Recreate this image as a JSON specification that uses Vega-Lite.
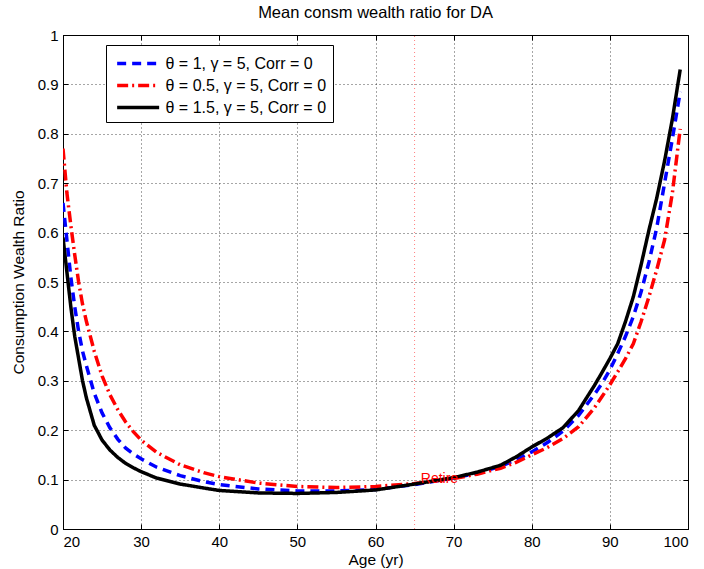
{
  "$schema": "https://vega.github.io/schema/vega-lite/v6.json",
  "width": 625,
  "height": 494,
  "autosize": {"type": "none"},
  "padding": {"left": 63, "top": 35, "right": 16, "bottom": 40},
  "background": "white",
  "config": {
    "font": "Liberation Sans",
    "view": {"stroke": "black", "strokeWidth": 1},
    "axis": {
      "domainColor": "black",
      "tickColor": "black",
      "labelColor": "black",
      "titleColor": "black",
      "labelFont": "Liberation Sans",
      "titleFont": "Liberation Sans",
      "labelFontSize": 15,
      "titleFontSize": 15.5,
      "titleFontWeight": "normal",
      "gridColor": "black",
      "gridOpacity": 0.7,
      "gridDash": [1, 3],
      "gridWidth": 1,
      "tickSize": -5,
      "tickWidth": 1
    }
  },
  "title": {
    "text": "Mean consm wealth ratio for DA",
    "font": "Liberation Sans",
    "fontSize": 16.5,
    "fontWeight": "normal",
    "color": "black",
    "anchor": "middle",
    "frame": "group",
    "baseline": "alphabetic",
    "offset": 15,
    "dy": 21
  },
  "datasets": {
    "curves": [
      {"s": "θ = 1, γ = 5, Corr = 0", "age": 20, "r": 0.66},
      {"s": "θ = 1, γ = 5, Corr = 0", "age": 20.5, "r": 0.585},
      {"s": "θ = 1, γ = 5, Corr = 0", "age": 21, "r": 0.51},
      {"s": "θ = 1, γ = 5, Corr = 0", "age": 21.5, "r": 0.45},
      {"s": "θ = 1, γ = 5, Corr = 0", "age": 22, "r": 0.4},
      {"s": "θ = 1, γ = 5, Corr = 0", "age": 22.5, "r": 0.36},
      {"s": "θ = 1, γ = 5, Corr = 0", "age": 23, "r": 0.33},
      {"s": "θ = 1, γ = 5, Corr = 0", "age": 24, "r": 0.275},
      {"s": "θ = 1, γ = 5, Corr = 0", "age": 25, "r": 0.235},
      {"s": "θ = 1, γ = 5, Corr = 0", "age": 26, "r": 0.205},
      {"s": "θ = 1, γ = 5, Corr = 0", "age": 27, "r": 0.182},
      {"s": "θ = 1, γ = 5, Corr = 0", "age": 28, "r": 0.164},
      {"s": "θ = 1, γ = 5, Corr = 0", "age": 29, "r": 0.152},
      {"s": "θ = 1, γ = 5, Corr = 0", "age": 30, "r": 0.142},
      {"s": "θ = 1, γ = 5, Corr = 0", "age": 32, "r": 0.125},
      {"s": "θ = 1, γ = 5, Corr = 0", "age": 35, "r": 0.108},
      {"s": "θ = 1, γ = 5, Corr = 0", "age": 38, "r": 0.096},
      {"s": "θ = 1, γ = 5, Corr = 0", "age": 40, "r": 0.09},
      {"s": "θ = 1, γ = 5, Corr = 0", "age": 45, "r": 0.081},
      {"s": "θ = 1, γ = 5, Corr = 0", "age": 50, "r": 0.077},
      {"s": "θ = 1, γ = 5, Corr = 0", "age": 55, "r": 0.077},
      {"s": "θ = 1, γ = 5, Corr = 0", "age": 60, "r": 0.08},
      {"s": "θ = 1, γ = 5, Corr = 0", "age": 65, "r": 0.09},
      {"s": "θ = 1, γ = 5, Corr = 0", "age": 70, "r": 0.103},
      {"s": "θ = 1, γ = 5, Corr = 0", "age": 73, "r": 0.113},
      {"s": "θ = 1, γ = 5, Corr = 0", "age": 76, "r": 0.127},
      {"s": "θ = 1, γ = 5, Corr = 0", "age": 78, "r": 0.14},
      {"s": "θ = 1, γ = 5, Corr = 0", "age": 80, "r": 0.156},
      {"s": "θ = 1, γ = 5, Corr = 0", "age": 82, "r": 0.175},
      {"s": "θ = 1, γ = 5, Corr = 0", "age": 84, "r": 0.198},
      {"s": "θ = 1, γ = 5, Corr = 0", "age": 86, "r": 0.23},
      {"s": "θ = 1, γ = 5, Corr = 0", "age": 88, "r": 0.272},
      {"s": "θ = 1, γ = 5, Corr = 0", "age": 89, "r": 0.295},
      {"s": "θ = 1, γ = 5, Corr = 0", "age": 90, "r": 0.322},
      {"s": "θ = 1, γ = 5, Corr = 0", "age": 91, "r": 0.355},
      {"s": "θ = 1, γ = 5, Corr = 0", "age": 92, "r": 0.39},
      {"s": "θ = 1, γ = 5, Corr = 0", "age": 93, "r": 0.43},
      {"s": "θ = 1, γ = 5, Corr = 0", "age": 94, "r": 0.48},
      {"s": "θ = 1, γ = 5, Corr = 0", "age": 95, "r": 0.54},
      {"s": "θ = 1, γ = 5, Corr = 0", "age": 96, "r": 0.61},
      {"s": "θ = 1, γ = 5, Corr = 0", "age": 97, "r": 0.7},
      {"s": "θ = 1, γ = 5, Corr = 0", "age": 98, "r": 0.79},
      {"s": "θ = 1, γ = 5, Corr = 0", "age": 99, "r": 0.885},

      {"s": "θ = 0.5, γ = 5, Corr = 0", "age": 20, "r": 0.77},
      {"s": "θ = 0.5, γ = 5, Corr = 0", "age": 20.5, "r": 0.68},
      {"s": "θ = 0.5, γ = 5, Corr = 0", "age": 21, "r": 0.615},
      {"s": "θ = 0.5, γ = 5, Corr = 0", "age": 21.5, "r": 0.555},
      {"s": "θ = 0.5, γ = 5, Corr = 0", "age": 22, "r": 0.5},
      {"s": "θ = 0.5, γ = 5, Corr = 0", "age": 22.5, "r": 0.455},
      {"s": "θ = 0.5, γ = 5, Corr = 0", "age": 23, "r": 0.42},
      {"s": "θ = 0.5, γ = 5, Corr = 0", "age": 24, "r": 0.36},
      {"s": "θ = 0.5, γ = 5, Corr = 0", "age": 25, "r": 0.31},
      {"s": "θ = 0.5, γ = 5, Corr = 0", "age": 26, "r": 0.272},
      {"s": "θ = 0.5, γ = 5, Corr = 0", "age": 27, "r": 0.242},
      {"s": "θ = 0.5, γ = 5, Corr = 0", "age": 28, "r": 0.217},
      {"s": "θ = 0.5, γ = 5, Corr = 0", "age": 29, "r": 0.197},
      {"s": "θ = 0.5, γ = 5, Corr = 0", "age": 30, "r": 0.18},
      {"s": "θ = 0.5, γ = 5, Corr = 0", "age": 32, "r": 0.155},
      {"s": "θ = 0.5, γ = 5, Corr = 0", "age": 35, "r": 0.13},
      {"s": "θ = 0.5, γ = 5, Corr = 0", "age": 38, "r": 0.114},
      {"s": "θ = 0.5, γ = 5, Corr = 0", "age": 40, "r": 0.106},
      {"s": "θ = 0.5, γ = 5, Corr = 0", "age": 45, "r": 0.093},
      {"s": "θ = 0.5, γ = 5, Corr = 0", "age": 50, "r": 0.086},
      {"s": "θ = 0.5, γ = 5, Corr = 0", "age": 55, "r": 0.084},
      {"s": "θ = 0.5, γ = 5, Corr = 0", "age": 60, "r": 0.086},
      {"s": "θ = 0.5, γ = 5, Corr = 0", "age": 65, "r": 0.092},
      {"s": "θ = 0.5, γ = 5, Corr = 0", "age": 70, "r": 0.102},
      {"s": "θ = 0.5, γ = 5, Corr = 0", "age": 73, "r": 0.111},
      {"s": "θ = 0.5, γ = 5, Corr = 0", "age": 76, "r": 0.123},
      {"s": "θ = 0.5, γ = 5, Corr = 0", "age": 78, "r": 0.135},
      {"s": "θ = 0.5, γ = 5, Corr = 0", "age": 80, "r": 0.15},
      {"s": "θ = 0.5, γ = 5, Corr = 0", "age": 82, "r": 0.165},
      {"s": "θ = 0.5, γ = 5, Corr = 0", "age": 84, "r": 0.183},
      {"s": "θ = 0.5, γ = 5, Corr = 0", "age": 86, "r": 0.207},
      {"s": "θ = 0.5, γ = 5, Corr = 0", "age": 88, "r": 0.245},
      {"s": "θ = 0.5, γ = 5, Corr = 0", "age": 89, "r": 0.268},
      {"s": "θ = 0.5, γ = 5, Corr = 0", "age": 90, "r": 0.292},
      {"s": "θ = 0.5, γ = 5, Corr = 0", "age": 91, "r": 0.318},
      {"s": "θ = 0.5, γ = 5, Corr = 0", "age": 92, "r": 0.345},
      {"s": "θ = 0.5, γ = 5, Corr = 0", "age": 93, "r": 0.375},
      {"s": "θ = 0.5, γ = 5, Corr = 0", "age": 94, "r": 0.42},
      {"s": "θ = 0.5, γ = 5, Corr = 0", "age": 95, "r": 0.47},
      {"s": "θ = 0.5, γ = 5, Corr = 0", "age": 96, "r": 0.525},
      {"s": "θ = 0.5, γ = 5, Corr = 0", "age": 97, "r": 0.585},
      {"s": "θ = 0.5, γ = 5, Corr = 0", "age": 98, "r": 0.68},
      {"s": "θ = 0.5, γ = 5, Corr = 0", "age": 99, "r": 0.81},

      {"s": "θ = 1.5, γ = 5, Corr = 0", "age": 20, "r": 0.59},
      {"s": "θ = 1.5, γ = 5, Corr = 0", "age": 20.5, "r": 0.52},
      {"s": "θ = 1.5, γ = 5, Corr = 0", "age": 21, "r": 0.45},
      {"s": "θ = 1.5, γ = 5, Corr = 0", "age": 21.5, "r": 0.39},
      {"s": "θ = 1.5, γ = 5, Corr = 0", "age": 22, "r": 0.345},
      {"s": "θ = 1.5, γ = 5, Corr = 0", "age": 22.5, "r": 0.3},
      {"s": "θ = 1.5, γ = 5, Corr = 0", "age": 23, "r": 0.265},
      {"s": "θ = 1.5, γ = 5, Corr = 0", "age": 24, "r": 0.21},
      {"s": "θ = 1.5, γ = 5, Corr = 0", "age": 25, "r": 0.18},
      {"s": "θ = 1.5, γ = 5, Corr = 0", "age": 26, "r": 0.16},
      {"s": "θ = 1.5, γ = 5, Corr = 0", "age": 27, "r": 0.145},
      {"s": "θ = 1.5, γ = 5, Corr = 0", "age": 28, "r": 0.133},
      {"s": "θ = 1.5, γ = 5, Corr = 0", "age": 29, "r": 0.124},
      {"s": "θ = 1.5, γ = 5, Corr = 0", "age": 30, "r": 0.116},
      {"s": "θ = 1.5, γ = 5, Corr = 0", "age": 32, "r": 0.103},
      {"s": "θ = 1.5, γ = 5, Corr = 0", "age": 35, "r": 0.091},
      {"s": "θ = 1.5, γ = 5, Corr = 0", "age": 38, "r": 0.083},
      {"s": "θ = 1.5, γ = 5, Corr = 0", "age": 40, "r": 0.078},
      {"s": "θ = 1.5, γ = 5, Corr = 0", "age": 45, "r": 0.073},
      {"s": "θ = 1.5, γ = 5, Corr = 0", "age": 50, "r": 0.072},
      {"s": "θ = 1.5, γ = 5, Corr = 0", "age": 55, "r": 0.074},
      {"s": "θ = 1.5, γ = 5, Corr = 0", "age": 60, "r": 0.079},
      {"s": "θ = 1.5, γ = 5, Corr = 0", "age": 65, "r": 0.091},
      {"s": "θ = 1.5, γ = 5, Corr = 0", "age": 70, "r": 0.104},
      {"s": "θ = 1.5, γ = 5, Corr = 0", "age": 73, "r": 0.115},
      {"s": "θ = 1.5, γ = 5, Corr = 0", "age": 76, "r": 0.129},
      {"s": "θ = 1.5, γ = 5, Corr = 0", "age": 78, "r": 0.146},
      {"s": "θ = 1.5, γ = 5, Corr = 0", "age": 80, "r": 0.166},
      {"s": "θ = 1.5, γ = 5, Corr = 0", "age": 82, "r": 0.184},
      {"s": "θ = 1.5, γ = 5, Corr = 0", "age": 84, "r": 0.205},
      {"s": "θ = 1.5, γ = 5, Corr = 0", "age": 86, "r": 0.24},
      {"s": "θ = 1.5, γ = 5, Corr = 0", "age": 88, "r": 0.29},
      {"s": "θ = 1.5, γ = 5, Corr = 0", "age": 89, "r": 0.317},
      {"s": "θ = 1.5, γ = 5, Corr = 0", "age": 90, "r": 0.345},
      {"s": "θ = 1.5, γ = 5, Corr = 0", "age": 91, "r": 0.375},
      {"s": "θ = 1.5, γ = 5, Corr = 0", "age": 92, "r": 0.42},
      {"s": "θ = 1.5, γ = 5, Corr = 0", "age": 93, "r": 0.47},
      {"s": "θ = 1.5, γ = 5, Corr = 0", "age": 94, "r": 0.535},
      {"s": "θ = 1.5, γ = 5, Corr = 0", "age": 95, "r": 0.605},
      {"s": "θ = 1.5, γ = 5, Corr = 0", "age": 96, "r": 0.67},
      {"s": "θ = 1.5, γ = 5, Corr = 0", "age": 97, "r": 0.745},
      {"s": "θ = 1.5, γ = 5, Corr = 0", "age": 98, "r": 0.83},
      {"s": "θ = 1.5, γ = 5, Corr = 0", "age": 99, "r": 0.93}
    ],
    "retire": [{"age": 65.8, "r": 0.101, "label": "Retire"}],
    "retireline": [{"age": 65}]
  },
  "layer": [
    {
      "data": {"name": "retireline"},
      "mark": {"type": "rule", "color": "#ff0000", "opacity": 0.5, "strokeDash": [1, 3], "strokeWidth": 1},
      "encoding": {
        "x": {"field": "age", "type": "quantitative", "scale": {"domain": [20, 100], "nice": false},
          "axis": {"orient": "top", "labels": false, "grid": false, "domain": false, "title": null, "minExtent": 0, "maxExtent": 0, "values": [20,30,40,50,60,70,80,90,100]}},
        "y": {"datum": 0, "type": "quantitative", "scale": {"domain": [0, 1], "nice": false},
          "axis": {"orient": "right", "labels": false, "grid": false, "domain": false, "title": null, "minExtent": 0, "maxExtent": 0, "values": [0,0.1,0.2,0.3,0.4,0.5,0.6,0.7,0.8,0.9,1]}},
        "y2": {"datum": 1}
      }
    },
    {
      "data": {"name": "curves"},
      "mark": {"type": "line", "strokeWidth": 3.5, "clip": true},
      "encoding": {
        "x": {"field": "age", "type": "quantitative", "scale": {"domain": [20, 100], "nice": false},
          "axis": {"orient": "bottom", "grid": true, "title": "Age (yr)", "values": [20,30,40,50,60,70,80,90,100], "labelPadding": 10, "titlePadding": 3}},
        "y": {"field": "r", "type": "quantitative", "scale": {"domain": [0, 1], "nice": false},
          "axis": {"orient": "left", "grid": true, "title": "Consumption Wealth Ratio", "values": [0,0.1,0.2,0.3,0.4,0.5,0.6,0.7,0.8,0.9,1], "format": ".1~f", "labelPadding": 10, "titlePadding": 11}},
        "color": {"field": "s", "type": "nominal",
          "scale": {"domain": ["θ = 1, γ = 5, Corr = 0", "θ = 0.5, γ = 5, Corr = 0", "θ = 1.5, γ = 5, Corr = 0"], "range": ["#0000ff", "#ff0000", "#000000"]},
          "legend": {"title": null, "orient": "none", "legendX": 43, "legendY": 10, "symbolType": "M-0.7,0L3.3,0", "symbolSize": 441, "symbolStrokeWidth": 3.5,
            "labelFontSize": 16, "labelFont": "Liberation Sans", "labelColor": "black", "strokeColor": "black", "fillColor": "white", "padding": 6, "rowPadding": 1, "labelOffset": 28.5, "labelLimit": 400}},
        "strokeDash": {"field": "s", "type": "nominal",
          "scale": {"domain": ["θ = 1, γ = 5, Corr = 0", "θ = 0.5, γ = 5, Corr = 0", "θ = 1.5, γ = 5, Corr = 0"], "range": [[9, 6], [11, 4, 2, 4], [1, 0]]}}
      }
    },
    {
      "data": {"name": "retire"},
      "mark": {"type": "text", "color": "#ff0000", "align": "left", "baseline": "middle", "fontSize": 14, "font": "Liberation Sans"},
      "encoding": {
        "x": {"field": "age", "type": "quantitative", "axis": null},
        "y": {"field": "r", "type": "quantitative", "axis": null},
        "text": {"field": "label"}
      }
    }
  ],
  "resolve": {"axis": {"x": "independent", "y": "independent"}}
}
